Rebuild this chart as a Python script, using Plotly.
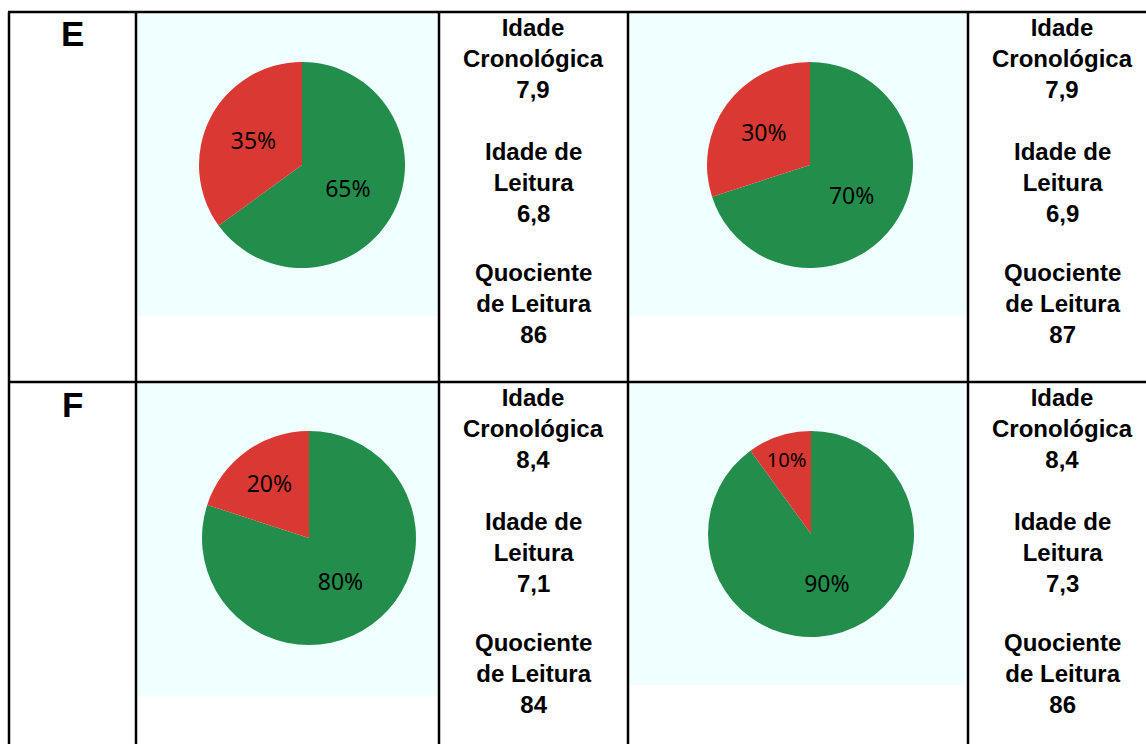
import plotly.graph_objects as go

W, H = 1146, 744

# Reading groups (rows) and two assessments per group (columns)
groups = ["E", "F"]
slice_names = ["Acertos", "Erros"]
correct_pct = [[65, 70], [80, 90]]
wrong_pct = [[35, 30], [20, 10]]
idade_cronologica = [["7,9", "7,9"], ["8,4", "8,4"]]
idade_leitura = [["6,8", "6,9"], ["7,1", "7,3"]]
quociente_leitura = [["86", "87"], ["84", "86"]]

GREEN = "#238E4C"
RED = "#DA3833"
PANEL = "#F0FFFF"
TEXT_FONT = "Arial"

# layout geometry in pixels
row_top = [12, 382]
pie_centers = [[(302, 165), (810, 165)], [(309, 538), (811, 534)]]
pie_radius = [[103, 103], [107, 103]]
panels = [[(137, 13, 437, 316), (629, 13, 966, 316)],
          [(137, 383, 437, 696), (629, 383, 965, 685)]]
text_col_x = [533, 1062]
group_offsets = [46, 170, 291]
label_col_x = 72
v_lines = [9, 136, 439, 628, 968]


def px(x):
    return x / W


def py(y):
    return 1 - y / H


fig = go.Figure()
shapes = []
annotations = []

for r in range(2):
    for c in range(2):
        x0, y0, x1, y1 = panels[r][c]
        shapes.append(dict(type="rect", xref="paper", yref="paper",
                           x0=px(x0), x1=px(x1), y0=py(y1), y1=py(y0),
                           fillcolor=PANEL, line=dict(width=0), layer="below"))
        cx, cy = pie_centers[r][c]
        rad = pie_radius[r][c]
        fig.add_trace(go.Pie(
            labels=slice_names,
            values=[correct_pct[r][c], wrong_pct[r][c]],
            marker=dict(colors=[GREEN, RED], line=dict(width=0)),
            sort=False, direction="clockwise", rotation=0,
            textinfo="percent", textposition="inside",
            insidetextorientation="horizontal",
            textfont=dict(family="Noto Sans", size=23, color="black"),
            hoverinfo="label+percent",
            domain=dict(x=[px(cx - rad), px(cx + rad)],
                        y=[py(cy + rad), py(cy - rad)]),
            showlegend=False,
        ))
        texts = [
            f"Idade<br>Cronológica<br>{idade_cronologica[r][c]}",
            f"Idade de<br>Leitura<br>{idade_leitura[r][c]}",
            f"Quociente<br>de Leitura<br>{quociente_leitura[r][c]}",
        ]
        for t, off in zip(texts, group_offsets):
            annotations.append(dict(
                text=f"<b>{t}</b>", xref="paper", yref="paper",
                x=px(text_col_x[c]), y=py(row_top[r] + off),
                xanchor="center", yanchor="middle", showarrow=False,
                align="center",
                font=dict(family=TEXT_FONT, size=24, color="black"),
            ))
    annotations.append(dict(
        text=f"<b>{groups[r]}</b>", xref="paper", yref="paper",
        x=px(label_col_x), y=py(row_top[r] + 22),
        xanchor="center", yanchor="middle", showarrow=False,
        font=dict(family=TEXT_FONT, size=35, color="black"),
    ))

# table rules
for y in row_top:
    shapes.append(dict(type="line", xref="paper", yref="paper",
                       x0=px(8), x1=1, y0=py(y), y1=py(y),
                       line=dict(color="black", width=2.5), layer="above"))
for x in v_lines:
    shapes.append(dict(type="line", xref="paper", yref="paper",
                       x0=px(x), x1=px(x), y0=0, y1=py(row_top[0]),
                       line=dict(color="black", width=2.5), layer="above"))

fig.update_layout(
    width=W, height=H,
    margin=dict(l=0, r=0, t=0, b=0),
    paper_bgcolor="white", plot_bgcolor="white",
    shapes=shapes, annotations=annotations,
)

fig.write_html("out.html")
